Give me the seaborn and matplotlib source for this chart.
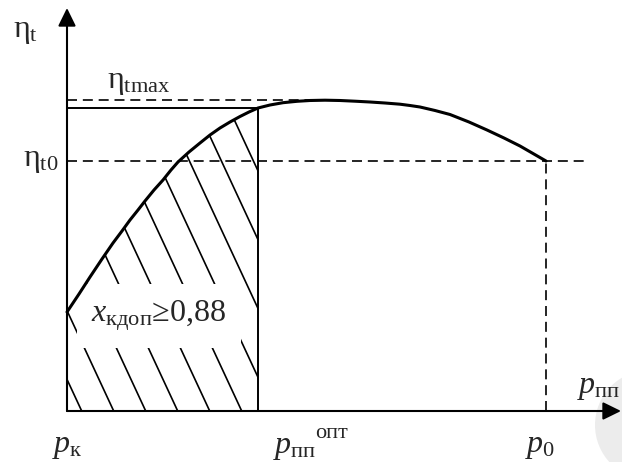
import matplotlib
matplotlib.use("Agg")
import matplotlib.pyplot as plt
import seaborn as sns
import pandas as pd
from matplotlib.patches import Polygon, Circle

# Thermal efficiency eta_t versus reheat pressure p_pp (arbitrary units)
p_pp = [0.00, 0.12, 0.23, 0.35, 0.46, 0.55, 0.63, 0.71, 0.78, 0.87, 0.96,
        1.04, 1.11, 1.22, 1.33, 1.43, 1.53, 1.63, 1.73, 1.82, 1.91, 2.03,
        2.16, 2.30, 2.43, 2.58, 2.73, 2.88, 3.03, 3.18, 3.33, 3.43, 3.53,
        3.68, 3.83, 4.02, 4.20, 4.37, 4.53, 4.66, 4.79]
eta_t = [0.99, 1.17, 1.34, 1.52, 1.68, 1.80, 1.91, 2.01, 2.10, 2.21, 2.31,
         2.41, 2.49, 2.59, 2.68, 2.76, 2.83, 2.89, 2.945, 2.99, 3.03, 3.06,
         3.083, 3.097, 3.105, 3.108, 3.105, 3.098, 3.09, 3.08, 3.068, 3.055, 3.04,
         3.005, 2.965, 2.89, 2.81, 2.73, 2.65, 2.575, 2.50]

# Characteristic points
p_k = 0.00        # condenser pressure
p_opt = 1.91      # optimal reheat pressure (limited by x_kdop)
p_0 = 4.79        # initial pressure
eta_t0 = 2.50
eta_tmax = 3.108
eta_at_opt = 3.03
p_at_max = 2.50

# Axis extents
x_end = 5.54
y_end = 4.03

sns.set_theme(style="white")
plt.rcParams["font.family"] = ["Liberation Serif", "DejaVu Serif"]
plt.rcParams["mathtext.fontset"] = "custom"
plt.rcParams["mathtext.rm"] = "Liberation Serif"
plt.rcParams["mathtext.it"] = "Liberation Serif:italic"

fig = plt.figure(figsize=(6.22, 4.62), dpi=100)
ax = fig.add_axes([0, 0, 1, 1])
ax.set_xlim(-0.67, 5.55)
ax.set_ylim(-0.51, 4.11)
ax.set_axis_off()

df = pd.DataFrame({"p": p_pp, "eta": eta_t})

# faint grey disc in the lower right corner
ax.add_patch(Circle((5.83, -0.14), 0.55, fc="#ececec", ec="none", zorder=0, clip_on=False))

# Region under the curve between p_k and p_opt (hatched)
region = [(p, e) for p, e in zip(p_pp, eta_t) if p <= p_opt] + [(p_opt, 0.0), (p_k, 0.0)]
clip_poly = Polygon(region, closed=True, fc="none", ec="none")
ax.add_patch(clip_poly)
hatch_slope = 2.15
hatch_start = 0.147
hatch_step = 0.32
for k in range(10):
    b = hatch_start + k * hatch_step
    top = 4.0
    ln, = ax.plot([b - top / hatch_slope, b], [top, 0.0], color="black", lw=1.2, zorder=2,
                  solid_capstyle="butt")
    ln.set_clip_path(clip_poly)

# Label with white backing over the hatching
ax.text(0.92, 0.95, r"$x_{\mathrm{кдоп}}$≥0,88", fontsize=23, ha="center", va="center",
        zorder=3, bbox=dict(boxstyle="square,pad=0.45", fc="white", ec="none"))

# Guide lines
dash_kw = dict(color="black", lw=1.2, dashes=(6, 3.5), zorder=2)
ax.plot([p_k, p_at_max], [eta_tmax, eta_tmax], **dash_kw)
ax.plot([p_k, 5.18], [eta_t0, eta_t0], **dash_kw)
ax.plot([p_0, p_0], [0, eta_t0], **dash_kw)
ax.plot([p_k, p_opt], [eta_at_opt, eta_at_opt], color="black", lw=1.4, zorder=4)
ax.plot([p_opt, p_opt], [0, eta_at_opt], color="black", lw=1.4, zorder=4)

# Efficiency curve
sns.lineplot(data=df, x="p", y="eta", ax=ax, color="black", lw=2.2, sort=False, zorder=5)

# Coordinate axes with arrow heads
arrow = dict(arrowstyle="-|>,head_length=0.55,head_width=0.27", lw=1.5, color="black",
             mutation_scale=20, shrinkA=0, shrinkB=0)
ax.annotate("", xy=(x_end, 0), xytext=(p_k, 0), arrowprops=arrow, zorder=6)
ax.annotate("", xy=(p_k, y_end), xytext=(p_k, 0), arrowprops=arrow, zorder=6)

# Axis and point labels
fs = 23
ax.text(-0.54, 3.74, r"$\mathrm{η}_{\mathrm{t}}$", fontsize=fs, ha="left", va="baseline")
ax.text(0.40, 3.23, r"$\mathrm{η}_{\mathrm{tmax}}$", fontsize=fs, ha="left", va="baseline")
ax.text(-0.08, 2.45, r"$\mathrm{η}_{\mathrm{t0}}$", fontsize=fs, ha="right", va="baseline")
ax.text(-0.15, -0.41, r"$p_{\mathrm{к}}$", fontsize=fs, ha="left", va="baseline")
ax.text(2.06, -0.42, r"$p_{\mathrm{пп}}$", fontsize=fs, ha="left", va="baseline")
ax.text(2.48, -0.27, "опт", fontsize=16, ha="left", va="baseline")
ax.text(4.58, -0.41, r"$p_{\mathrm{0}}$", fontsize=fs, ha="left", va="baseline")
ax.text(5.10, 0.18, r"$p_{\mathrm{пп}}$", fontsize=fs, ha="left", va="baseline")

fig.savefig("out.png", dpi=100, facecolor="white")
